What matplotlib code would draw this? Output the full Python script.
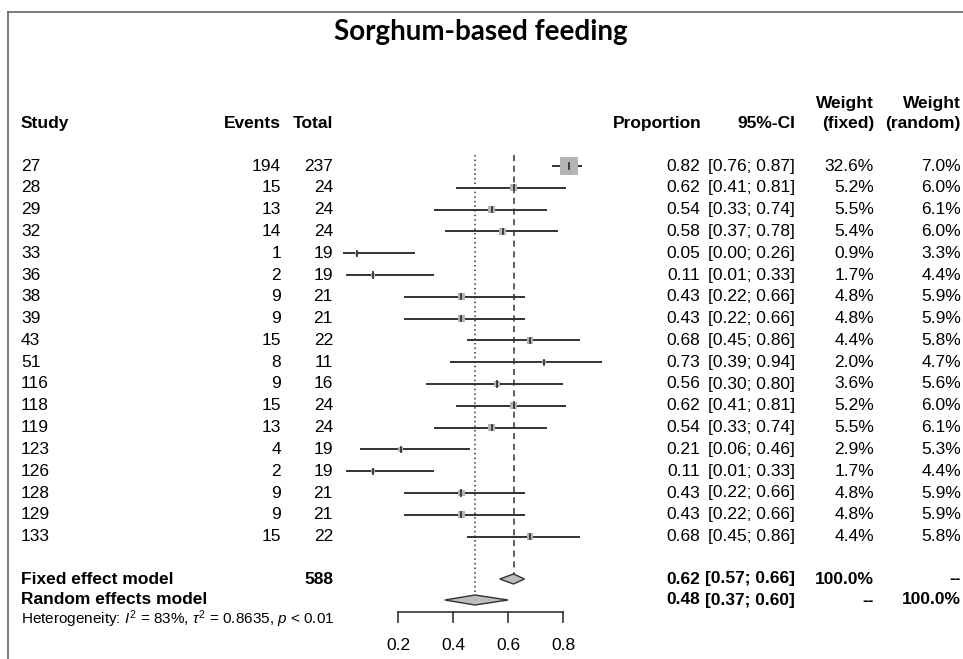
import matplotlib
matplotlib.use("Agg")
import matplotlib.pyplot as plt
from matplotlib.patches import Rectangle, Polygon
import numpy as np

# ---------------- data ----------------
studies = ['27', '28', '29', '32', '33', '36', '38', '39', '43', '51',
           '116', '118', '119', '123', '126', '128', '129', '133']
events = [194, 15, 13, 14, 1, 2, 9, 9, 15, 8, 9, 15, 13, 4, 2, 9, 9, 15]
totals = [237, 24, 24, 24, 19, 19, 21, 21, 22, 11, 16, 24, 24, 19, 19, 21, 21, 22]
prop = [0.82, 0.62, 0.54, 0.58, 0.05, 0.11, 0.43, 0.43, 0.68, 0.73,
        0.56, 0.62, 0.54, 0.21, 0.11, 0.43, 0.43, 0.68]
ci_lo = [0.76, 0.41, 0.33, 0.37, 0.00, 0.01, 0.22, 0.22, 0.45, 0.39,
         0.30, 0.41, 0.33, 0.06, 0.01, 0.22, 0.22, 0.45]
ci_hi = [0.87, 0.81, 0.74, 0.78, 0.26, 0.33, 0.66, 0.66, 0.86, 0.94,
         0.80, 0.81, 0.74, 0.46, 0.33, 0.66, 0.66, 0.86]
w_fixed = [32.6, 5.2, 5.5, 5.4, 0.9, 1.7, 4.8, 4.8, 4.4, 2.0,
           3.6, 5.2, 5.5, 2.9, 1.7, 4.8, 4.8, 4.4]
w_random = [7.0, 6.0, 6.1, 6.0, 3.3, 4.4, 5.9, 5.9, 5.8, 4.7,
            5.6, 6.0, 6.1, 5.3, 4.4, 5.9, 5.9, 5.8]

fixed_est, fixed_lo, fixed_hi = 0.62, 0.57, 0.66
random_est, random_lo, random_hi = 0.48, 0.37, 0.60
total_n = 588
xticks = [0.2, 0.4, 0.6, 0.8]

title = "Sorghum-based feeding"
heterogeneity = r"Heterogeneity: $\mathit{I}^2$ = 83%, $\tau^2$ = 0.8635, $\mathit{p}$ < 0.01"

# ---------------- layout ----------------
W, H = 963, 659
plt.rcParams['font.family'] = ['Liberation Sans', 'DejaVu Sans']
plt.rcParams['mathtext.fontset'] = 'custom'
plt.rcParams['mathtext.rm'] = 'Liberation Sans'
plt.rcParams['mathtext.it'] = 'Liberation Sans:italic'
plt.rcParams['mathtext.bf'] = 'Liberation Sans:bold'

fig = plt.figure(figsize=(W / 100, H / 100), dpi=100)

ROW0_PX, STEP_PX = 166.0, 21.8
y_top = -ROW0_PX / STEP_PX
y_bot = (H - ROW0_PX) / STEP_PX

def row_of_px(px):
    return (px - ROW0_PX) / STEP_PX

# text axes: x in pixels, y in row units
ax_t = fig.add_axes([0, 0, 1, 1])
ax_t.set_xlim(0, W)
ax_t.set_ylim(y_bot, y_top)
ax_t.axis('off')

# forest axes: x in proportion, y in row units
PX_PER_UNIT = 275.0
X0_PX = 398.0 - 0.2 * PX_PER_UNIT
ax = fig.add_axes([X0_PX / W, 0, PX_PER_UNIT / W, 1])
ax.set_xlim(0, 1)
ax.set_ylim(y_bot, y_top)
ax.axis('off')
ax.patch.set_alpha(0)

FS = 12.5
col_study, col_events, col_total = 21, 281, 333
col_prop, col_ci, col_wf, col_wr = 700, 795, 874, 961

y_head = row_of_px(123)
y_head2 = row_of_px(103)
y_fixed = row_of_px(579)
y_random = row_of_px(600)
y_het = row_of_px(619)
y_axis = row_of_px(612)

# border
ax_t.plot([8, W], [row_of_px(12)] * 2, color='#666666', lw=1.2, clip_on=False)
ax_t.plot([8, 8], [row_of_px(12), y_bot], color='#666666', lw=1.2, clip_on=False)

# title
ax_t.text(481, row_of_px(32), title, ha='center', va='center',
          fontsize=20, fontweight='bold', family=['Lato', 'DejaVu Sans'])

# headers
hk = dict(fontsize=FS, fontweight='bold', va='center')
ax_t.text(col_study, y_head, "Study", ha='left', **hk)
ax_t.text(col_events, y_head, "Events", ha='right', **hk)
ax_t.text(col_total, y_head, "Total", ha='right', **hk)
ax_t.text(col_prop + 2, y_head, "Proportion", ha='right', **hk)
ax_t.text(col_ci, y_head, "95%-CI", ha='right', **hk)
ax_t.text(col_wf, y_head, "(fixed)", ha='right', **hk)
ax_t.text(col_wr, y_head, "(random)", ha='right', **hk)
ax_t.text(col_wf, y_head2, "Weight", ha='right', **hk)
ax_t.text(col_wr, y_head2, "Weight", ha='right', **hk)

rk = dict(fontsize=FS, va='center')
for i, s in enumerate(studies):
    ax_t.text(col_study, i, s, ha='left', **rk)
    ax_t.text(col_events, i, str(events[i]), ha='right', **rk)
    ax_t.text(col_total, i, str(totals[i]), ha='right', **rk)
    ax_t.text(col_prop, i, f"{prop[i]:.2f}", ha='right', **rk)
    ax_t.text(col_ci, i, f"[{ci_lo[i]:.2f}; {ci_hi[i]:.2f}]", ha='right', **rk)
    ax_t.text(col_wf, i, f"{w_fixed[i]:.1f}%", ha='right', **rk)
    ax_t.text(col_wr, i, f"{w_random[i]:.1f}%", ha='right', **rk)

# model rows
ax_t.text(col_study, y_fixed, "Fixed effect model", ha='left', **hk)
ax_t.text(col_total, y_fixed, str(total_n), ha='right', **hk)
ax_t.text(col_prop, y_fixed, f"{fixed_est:.2f}", ha='right', **hk)
ax_t.text(col_ci, y_fixed, f"[{fixed_lo:.2f}; {fixed_hi:.2f}]", ha='right', **hk)
ax_t.text(col_wf, y_fixed, "100.0%", ha='right', **hk)
ax_t.text(col_wr, y_fixed, "--", ha='right', **hk)

ax_t.text(col_study, y_random, "Random effects model", ha='left', **hk)
ax_t.text(col_prop, y_random, f"{random_est:.2f}", ha='right', **hk)
ax_t.text(col_ci, y_random, f"[{random_lo:.2f}; {random_hi:.2f}]", ha='right', **hk)
ax_t.text(col_wf, y_random, "--", ha='right', **hk)
ax_t.text(col_wr, y_random, "100.0%", ha='right', **hk)

ax_t.text(col_study, y_het, heterogeneity, ha='left', va='center', fontsize=11)

# ---------------- forest ----------------
line_col = '#333333'
box_col = '#b5b5b5'
max_w = max(w_fixed)
MAX_BOX_PX = 18.0
for i in range(len(studies)):
    ax.plot([ci_lo[i], ci_hi[i]], [i, i], color=line_col, lw=1.4, solid_capstyle='butt', zorder=2)
    side = MAX_BOX_PX * np.sqrt(w_fixed[i] / max_w)
    bw = side / PX_PER_UNIT
    bh = side / STEP_PX
    ax.add_patch(Rectangle((prop[i] - bw / 2, i - bh / 2), bw, bh,
                           facecolor=box_col, edgecolor='none', zorder=3))
    ax.plot([prop[i], prop[i]], [i - 0.12, i + 0.12], color=line_col, lw=1.3, zorder=4)

# reference lines
ax.plot([random_est, random_est], [row_of_px(155), y_random - 0.23], color=line_col,
        lw=1.1, linestyle=(0, (1, 2)), zorder=1)
ax.plot([fixed_est, fixed_est], [row_of_px(155), y_fixed - 0.23], color=line_col,
        lw=1.1, linestyle=(0, (4, 3)), zorder=1)

# diamonds
dh = 0.23
for est, lo, hi, yy in [(fixed_est, fixed_lo, fixed_hi, y_fixed),
                        (random_est, random_lo, random_hi, y_random)]:
    ax.add_patch(Polygon([(lo, yy), (est, yy - dh), (hi, yy), (est, yy + dh)],
                         closed=True, facecolor='#bdbdbd', edgecolor=line_col,
                         lw=1.0, zorder=3))

# x axis
ax.plot([xticks[0], xticks[-1]], [y_axis, y_axis], color=line_col, lw=1.2)
for t in xticks:
    ax.plot([t, t], [y_axis, row_of_px(622)], color=line_col, lw=1.2)
    ax.text(t, row_of_px(646), f"{t:.1f}", ha='center', va='center', fontsize=FS)

fig.savefig("out.png", dpi=100)
